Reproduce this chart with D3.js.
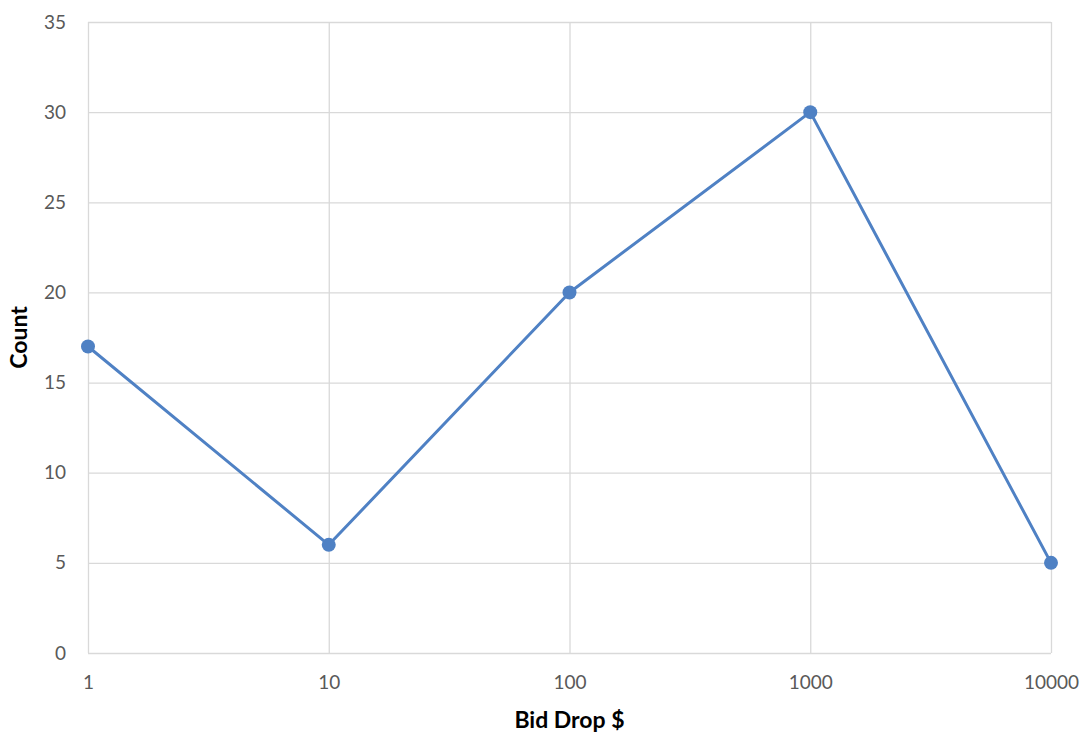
<!DOCTYPE html>
<html>
<head>
<meta charset="utf-8">
<script src="https://cdn.jsdelivr.net/npm/d3@7"></script>
<style>
  html, body { margin: 0; padding: 0; background: #fff; }
  svg { display: block; }
</style>
</head>
<body>
<svg id="chart" width="1087" height="738"></svg>
<script>
// Bid drop amounts (log-spaced) and how many times each occurred
const bidDrops = [1, 10, 100, 1000, 10000];
const counts = [17, 6, 20, 30, 5];
const yTicks = [0, 5, 10, 15, 20, 25, 30, 35];
const xTicks = [1, 10, 100, 1000, 10000];

const svg = d3.select("#chart");
const margin = { left: 88, right: 36, top: 22, bottom: 85 };
const W = 1087, H = 738;
const font = "Lato, 'Open Sans', sans-serif";

const x = d3.scaleLog().domain([1, 10000]).range([margin.left, W - margin.right]);
const y = d3.scaleLinear().domain([0, 35]).range([H - margin.bottom, margin.top]);

// Horizontal gridlines
const yAxis = d3.axisLeft(y).tickValues(yTicks).tickSize(-(W - margin.left - margin.right)).tickPadding(22).tickFormat(d3.format("d"));
const gy = svg.append("g").attr("transform", `translate(${margin.left},0)`).call(yAxis);
gy.select(".domain").remove();
gy.selectAll("line").attr("stroke", "#d9d9d9").attr("stroke-width", 1.3);
gy.selectAll("text").attr("fill", "#595959").style("font-family", font).style("font-size", "19px");

// Vertical gridlines at each decade
const xAxis = d3.axisBottom(x).tickValues(xTicks).tickSize(-(H - margin.top - margin.bottom)).tickPadding(23).tickFormat(d3.format("d"));
const gx = svg.append("g").attr("transform", `translate(0,${H - margin.bottom})`).call(xAxis);
gx.select(".domain").remove();
gx.selectAll("line").attr("stroke", "#d9d9d9").attr("stroke-width", 1.3);
gx.selectAll("text").attr("fill", "#595959").style("font-family", font).style("font-size", "19px");

// Series line and markers
const data = bidDrops.map((b, i) => ({ b, c: counts[i] }));
const line = d3.line().x(d => x(d.b)).y(d => y(d.c));
svg.append("path").datum(data).attr("d", line)
  .attr("fill", "none").attr("stroke", "#4f81c4").attr("stroke-width", 3).attr("stroke-linejoin", "round");
svg.append("g").selectAll("circle").data(data).join("circle")
  .attr("cx", d => x(d.b)).attr("cy", d => y(d.c)).attr("r", 7).attr("fill", "#4f81c4");

// Axis titles
svg.append("text").attr("x", (margin.left + W - margin.right) / 2).attr("y", 728)
  .attr("text-anchor", "middle").attr("font-weight", "bold").attr("fill", "#000")
  .style("font-family", font).style("font-size", "23px").text("Bid Drop $");
svg.append("text").attr("transform", `translate(27,${(margin.top + H - margin.bottom) / 2}) rotate(-90)`)
  .attr("text-anchor", "middle").attr("font-weight", "bold").attr("fill", "#000")
  .style("font-family", font).style("font-size", "23px").text("Count");
</script>
</body>
</html>
